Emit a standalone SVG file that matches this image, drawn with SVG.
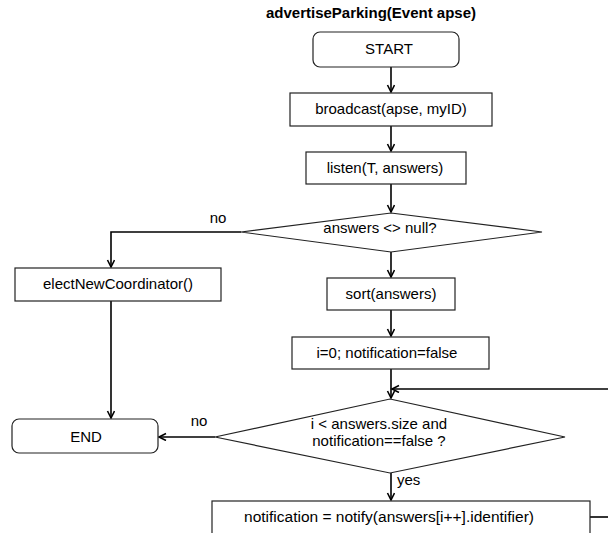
<svg xmlns="http://www.w3.org/2000/svg" width="608" height="533" viewBox="0 0 608 533">
<style>
text{font-family:"Liberation Sans",Arial,sans-serif;font-size:15px;fill:#000}
.t{font-weight:bold}
.box{fill:#fff;stroke:#222;stroke-width:1.2}
.c{fill:none;stroke:#000;stroke-width:1.6}
</style>
<defs>
<marker id="a" markerWidth="10" markerHeight="10" refX="8" refY="4" orient="auto" markerUnits="userSpaceOnUse">
<path d="M1,0.5 L8,4 L1,7.5" fill="none" stroke="#000" stroke-width="1.6"/>
</marker>
</defs>
<rect width="608" height="533" fill="#fff"/>
<text class="t" x="371" y="18" text-anchor="middle">advertiseParking(Event apse)</text>
<g id="connectors">
<path class="c" d="M391,67 V92" marker-end="url(#a)"/>
<path class="c" d="M391,126 V151" marker-end="url(#a)"/>
<path class="c" d="M391,184 V212" marker-end="url(#a)"/>
<path class="c" d="M241,232 H111 V267" marker-end="url(#a)"/>
<path class="c" d="M391,252 V277" marker-end="url(#a)"/>
<path class="c" d="M391,310 V336" marker-end="url(#a)"/>
<path class="c" d="M391,369 V398" marker-end="url(#a)"/>
<path class="c" d="M111,301 V418" marker-end="url(#a)"/>
<path class="c" d="M215,437 H159" marker-end="url(#a)"/>
<path class="c" d="M391,473 V500" marker-end="url(#a)"/>
<path class="c" d="M608,389 H392" marker-end="url(#a)"/>
<path class="c" d="M590,517 H608"/>
</g>
<g id="start">
<rect class="box" x="313" y="32" width="146" height="35" rx="7"/>
<text x="389" y="54" text-anchor="middle">START</text>
</g>
<g id="broadcast">
<rect class="box" x="290" y="93" width="202" height="33"/>
<text x="391" y="114" text-anchor="middle">broadcast(apse, myID)</text>
</g>
<g id="listen">
<rect class="box" x="306" y="152" width="160" height="32"/>
<text x="385" y="173" text-anchor="middle">listen(T, answers)</text>
</g>
<g id="decision1">
<polygon class="box" points="391,213 542,232 391,252 241,232"/>
<text x="380" y="233" text-anchor="middle">answers &lt;&gt; null?</text>
<text x="218" y="223" text-anchor="middle">no</text>
</g>
<g id="elect">
<rect class="box" x="15" y="268" width="206" height="33"/>
<text x="118" y="289" text-anchor="middle">electNewCoordinator()</text>
</g>
<g id="sort">
<rect class="box" x="327" y="278" width="128" height="32"/>
<text x="391" y="299" text-anchor="middle">sort(answers)</text>
</g>
<g id="init">
<rect class="box" x="292" y="337" width="197" height="32"/>
<text x="387" y="358" text-anchor="middle">i=0; notification=false</text>
</g>
<g id="decision2">
<polygon class="box" points="390,399 565,437 390,473 215,437"/>
<text x="379" y="429" text-anchor="middle">i &lt; answers.size and</text>
<text x="379" y="446" text-anchor="middle">notification==false ?</text>
<text x="199" y="426" text-anchor="middle">no</text>
<text x="397" y="485">yes</text>
</g>
<g id="end">
<rect class="box" x="12" y="419" width="146" height="34" rx="7"/>
<text x="86" y="442" text-anchor="middle">END</text>
</g>
<g id="notify">
<rect class="box" x="212" y="501" width="378" height="40"/>
<text x="389" y="522" text-anchor="middle" style="font-size:15.5px">notification = notify(answers[i++].identifier)</text>
</g>
</svg>
